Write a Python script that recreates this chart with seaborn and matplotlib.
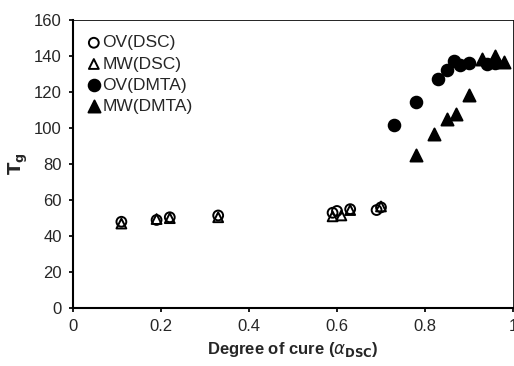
import matplotlib
matplotlib.use("Agg")
import matplotlib.pyplot as plt
import seaborn as sns
import pandas as pd

sns.set_theme(style="white")
plt.rcParams['font.family'] = ['Liberation Sans', 'DejaVu Sans']

ov_dsc_x = [0.11, 0.19, 0.22, 0.33, 0.59, 0.60, 0.63, 0.69, 0.70]
ov_dsc_y = [48.0, 49.0, 50.5, 51.5, 53.0, 54.0, 55.0, 54.5, 56.0]
mw_dsc_x = [0.11, 0.19, 0.22, 0.33, 0.59, 0.61, 0.63, 0.70]
mw_dsc_y = [47.0, 49.5, 50.0, 50.5, 51.0, 51.5, 54.5, 56.5]
ov_dmta_x = [0.73, 0.78, 0.83, 0.85, 0.865, 0.88, 0.90, 0.94, 0.96]
ov_dmta_y = [101.5, 114.5, 127.5, 132.5, 137.5, 135.0, 136.0, 135.5, 136.0]
mw_dmta_x = [0.78, 0.82, 0.85, 0.87, 0.90, 0.93, 0.96, 0.98]
mw_dmta_y = [85.0, 97.0, 105.0, 108.0, 118.5, 138.5, 140.0, 137.0]

x_ticks = [0, 0.2, 0.4, 0.6, 0.8, 1.0]
x_ticklabels = ["0", "0.2", "0.4", "0.6", "0.8", "1"]
y_ticks = [0, 20, 40, 60, 80, 100, 120, 140, 160]

fig = plt.figure(figsize=(5.14, 3.66), dpi=100)
ax = fig.add_axes([0.142, 0.158, 0.856, 0.787])

series = [
    ("OV(DSC)", ov_dsc_x, ov_dsc_y, "o", "none", 50),
    ("MW(DSC)", mw_dsc_x, mw_dsc_y, "^", "none", 50),
    ("OV(DMTA)", ov_dmta_x, ov_dmta_y, "o", "black", 70),
    ("MW(DMTA)", mw_dmta_x, mw_dmta_y, "^", "black", 75),
]
for label, xs, ys, m, fc, sz in series:
    df = pd.DataFrame({"x": xs, "y": ys})
    sns.scatterplot(data=df, x="x", y="y", ax=ax, marker=m, s=sz,
                    facecolor=fc, edgecolor="black", linewidth=1.4, label=label)

ax.set_xlim(0, 1)
ax.set_ylim(0, 160)
ax.set_xticks(x_ticks)
ax.set_xticklabels(x_ticklabels)
ax.set_yticks(y_ticks)
ax.tick_params(axis="both", labelsize=12, length=3, direction="out", color="black",
               bottom=True, left=True, pad=5)
for side, sp in ax.spines.items():
    sp.set_color("black")
ax.spines["left"].set_linewidth(1.5)
ax.spines["bottom"].set_linewidth(1.5)
ax.spines["top"].set_linewidth(0.6)
ax.spines["right"].set_linewidth(0.6)

ax.set_xlabel(r"Degree of cure ($\alpha_{\mathbf{DSC}}$)", fontsize=12, fontweight="bold",
              labelpad=4)
ax.set_ylabel(r"$\mathbf{T_g}$", fontsize=13, fontweight="bold", labelpad=3)

leg = ax.legend(loc="upper left", bbox_to_anchor=(0.0, 0.99), frameon=False,
                fontsize=12.5, handletextpad=0.0, labelspacing=0.35,
                handlelength=1.0, borderaxespad=0.3)

fig.savefig("out.png", dpi=100)
